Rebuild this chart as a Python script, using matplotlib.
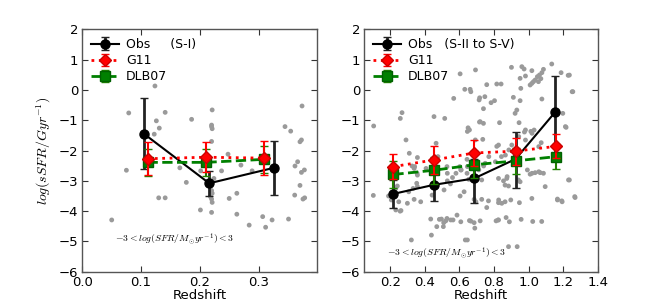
import matplotlib
matplotlib.use("Agg")
import matplotlib.pyplot as plt
import numpy as np

plt.rcParams['font.family'] = ['DejaVu Sans']
plt.rcParams['mathtext.fontset'] = 'cm'

# ---------------- Left panel data (S-I) ----------------
obs_z1 = [0.105, 0.216, 0.326]
obs_y1 = [-1.45, -3.08, -2.57]
obs_err1 = [1.17, 0.42, 0.90]

g11_z1 = [0.111, 0.211, 0.310]
g11_y1 = [-2.27, -2.22, -2.25]
g11_err1 = [0.55, 0.49, 0.57]

dlb_z1 = [0.111, 0.211, 0.310]
dlb_y1 = [-2.39, -2.39, -2.29]
dlb_err1 = [0.44, 0.44, 0.44]

scat_z1 = [0.050, 0.075, 0.079, 0.1236, 0.126, 0.131, 0.1224, 0.141, 0.130, 0.141,
           0.186, 0.166, 0.177, 0.201, 0.2015, 0.221, 0.220, 0.220, 0.221, 0.220,
           0.220, 0.221, 0.218, 0.220, 0.221, 0.220, 0.237, 0.248, 0.250, 0.263,
           0.263, 0.270, 0.284, 0.289, 0.307, 0.312, 0.323, 0.351, 0.362, 0.3665,
           0.373, 0.378, 0.3705, 0.3615, 0.3756, 0.3785, 0.374, 0.345, 0.3547, 0.3705,
           0.373, 0.224]
scat_y1 = [-4.29, -2.65, -0.76, 0.13, -1.02, -1.26, -1.46, -0.74, -3.56, -3.56,
           -0.97, -2.57, -3.05, -3.96, -2.67, -0.66, -1.16, -1.21, -1.28, -1.70,
           -3.32, -3.41, -3.52, -3.60, -3.71, -4.04, -2.67, -2.12, -3.58, -3.41,
           -4.10, -2.48, -4.46, -2.67, -4.18, -4.53, -4.29, -4.26, -2.51, -2.37,
           -2.72, -2.64, -3.15, -3.47, -3.60, -3.56, -0.53, -1.21, -1.36, -1.71,
           -1.65, -2.92]

# ---------------- Right panel data (S-II to S-V) ----------------
obs_z2 = [0.218, 0.453, 0.685, 0.925, 1.154]
obs_y2 = [-3.43, -3.13, -2.92, -2.28, -0.73]
obs_lo2 = [0.48, 0.55, 0.80, 0.95, 1.50]
obs_hi2 = [0.45, 0.55, 0.65, 0.90, 1.19]

g11_z2 = [0.218, 0.453, 0.685, 0.925, 1.161]
g11_y2 = [-2.53, -2.31, -2.08, -2.02, -1.86]
g11_err2 = [0.42, 0.45, 0.44, 0.45, 0.40]

dlb_z2 = [0.218, 0.453, 0.685, 0.925, 1.161]
dlb_y2 = [-2.79, -2.65, -2.47, -2.34, -2.20]
dlb_err2 = [0.45, 0.45, 0.45, 0.42, 0.42]

scat_z2 = [0.104, 0.102, 0.268, 0.258, 0.291, 0.453, 0.515, 0.465, 0.567, 0.604,
           0.631, 0.662, 0.666, 0.693, 0.717, 0.714, 0.650, 0.646, 0.658, 0.692,
           0.716, 0.357,
           0.901, 0.961, 0.974, 1.019, 1.134, 1.188, 1.229, 0.982, 0.951, 1.086,
           1.077, 1.063, 1.051, 1.038, 1.071, 1.057, 1.019, 1.028, 1.009, 0.758,
           0.816, 0.841, 0.955, 1.256, 0.747, 0.912, 1.077, 0.951, 0.803, 0.783,
           0.739, 0.932, 0.922, 1.198, 0.720, 0.739, 0.832, 0.945, 1.217, 1.032,
           1.013, 0.976, 0.735, 0.826, 0.816, 0.903, 1.073, 0.982,
           0.190, 0.206, 0.249, 0.262, 0.307, 0.332, 0.353, 0.322, 0.355, 0.341,
           0.442, 0.434, 0.438, 0.469, 0.484, 0.509, 0.528, 0.563, 0.586, 0.658,
           0.689, 0.634, 0.646, 0.548, 0.644, 0.602, 0.827, 0.824, 0.934,
           0.257, 0.357, 0.338, 0.299, 0.376, 0.496, 0.521, 0.507, 0.550, 0.608,
           0.666, 0.685, 0.604, 0.627, 0.511, 0.560, 0.530, 0.357, 0.338, 0.608,
           0.646, 0.685, 0.695, 0.241, 0.232, 0.232,
           0.310, 0.326, 0.407, 0.476, 0.528, 0.530, 0.580, 0.610, 0.644, 0.654,
           0.712, 0.740, 0.770, 0.808, 0.843, 0.866, 0.876, 0.886, 0.943, 0.982,
           1.020, 1.059, 0.993, 1.020, 1.059, 1.086, 1.167, 1.194, 1.213, 1.236,
           1.267, 1.236, 1.252,
           0.749, 0.826, 0.855, 0.874, 0.864, 0.884, 0.941, 0.951, 1.009, 1.038,
           1.067, 1.096, 1.231, 1.019, 1.167, 1.192, 1.269, 0.729, 0.768, 0.758,
           0.826, 0.845, 0.864, 0.897, 0.947, 0.720, 0.812, 0.826, 0.870, 0.889,
           0.957, 1.024, 1.076, 0.884, 0.729]
scat_y2 = [-1.19, -3.48, -0.75, -0.94, -1.65, -0.88, -0.94, -1.76, -0.28, 0.53,
           0.02, 0.02, -0.06, 0.66, -0.26, -0.33, -1.25, -1.37, -1.32, -1.65,
           -1.06, -2.23,
           0.745, 0.767, 0.690, 0.635, 0.855, 0.569, 0.481, 0.459, 0.382, 0.679,
           0.569, 0.492, 0.437, 0.327, 0.371, 0.272, 0.217, 0.272, 0.162, 0.173,
           0.195, 0.195, 0.052, -0.058, -0.223, -0.245, -0.300, -0.355, -0.355, -0.421,
           -0.619, -0.663, -0.773, -0.773, -1.048, -1.103, -1.081, -1.081, -1.235, -1.323,
           -1.367, -1.389, -1.631, -1.818, -1.862, -1.818, -1.741, -1.653,
           -3.50, -3.63, -3.69, -3.98, -3.36, -3.25, -3.08, -4.95, -2.75, -2.53,
           -3.47, -4.26, -4.79, -4.51, -4.27, -4.38, -4.24, -4.29, -4.13, -4.31,
           -4.56, -4.95, -4.95, -3.10, -2.75, -2.53, -3.63, -4.29, -5.17,
           -4.00, -3.19, -3.61, -3.74, -3.69, -4.26, -4.32, -4.51, -4.29, -4.35,
           -4.33, -4.38, -3.50, -3.36, -3.30, -2.89, -3.00, -2.81, -2.59, -2.64,
           -2.53, -3.61, -3.69, -3.17, -3.25, -3.96,
           -2.09, -2.51, -2.59, -2.20, -2.53, -2.75, -2.75, -2.64, -2.29, -2.95,
           -2.64, -2.51, -2.20, -2.37, -2.20, -2.15, -2.86, -1.98, -1.54, -1.32,
           -1.43, -1.87, -2.64, -2.75, -2.70, -2.75, -3.63, -3.69, -1.21, -2.97,
           -3.52, 0.49, -0.06,
           -2.42, -2.92, -3.00, -2.92, -3.14, -3.17, -2.97, -3.03, -2.78, -2.73,
           -2.73, -3.19, -2.97, -3.58, -3.60, -3.66, -3.55, -3.61, -3.66, -3.88,
           -3.72, -3.74, -3.69, -3.63, -3.72, -4.32, -4.32, -4.29, -4.21, -4.35,
           -4.27, -4.34, -4.34, -5.17, -2.97]

note_text = r'$-3<log(SFR/M_{\odot}yr^{-1})<3$'

fig = plt.figure(figsize=(6.64, 3.02), dpi=100)
ax1 = fig.add_axes([0.124, 0.100, 0.353, 0.803])
ax2 = fig.add_axes([0.5487, 0.100, 0.3515, 0.803])

def draw(ax, sz, sy, oz, oy, oerr, gz, gy, gerr, dz, dy, derr, obs_label):
    ax.scatter(sz, sy, s=12, color='#9a9a9a', edgecolors='none', zorder=1)
    ax.errorbar(oz, oy, yerr=oerr, color='k', ecolor='#222222', elinewidth=2,
                capsize=3, capthick=1, lw=1.5, marker='o', ms=6.5, mec='k',
                label=obs_label, zorder=3)
    ax.errorbar(gz, gy, yerr=gerr, color='r', ecolor='r', elinewidth=1.5,
                capsize=3, capthick=1, lw=2, ls=':', marker='D', ms=6.5, mec='#cc0000',
                label='G11', zorder=5)
    ax.errorbar(dz, dy, yerr=derr, color='#008000', ecolor='#208000', elinewidth=1.5,
                capsize=3, capthick=1, lw=2, ls='--', marker='s', ms=6.5, mec='#006000',
                label='DLB07', zorder=4)
    ax.set_ylim(-6, 2)
    ax.set_yticks(np.arange(-6, 3, 1))
    ax.tick_params(direction='in', top=True, right=True, length=4, labelsize=9.5,
                   width=0.8, color='#333333', pad=3)
    for s in ax.spines.values():
        s.set_color('#555555')
        s.set_linewidth(1)
    ax.set_xlabel('Redshift', fontsize=9.5, labelpad=0)
    ax.legend(loc='upper left', frameon=False, numpoints=1, fontsize=9,
              handlelength=2.2, labelspacing=0.25, borderaxespad=0.3,
              handletextpad=0.6)

draw(ax1, scat_z1, scat_y1, obs_z1, obs_y1, obs_err1, g11_z1, g11_y1, g11_err1,
     dlb_z1, dlb_y1, dlb_err1, 'Obs     (S-I)')
ax1.set_xlim(0.0, 0.399)
ax1.set_xticks([0.0, 0.1, 0.2, 0.3])
ax1.set_ylabel(r'$log(sSFR/Gyr^{-1})$', fontsize=10, labelpad=4)
ax1.text(0.056, -4.92, note_text, fontsize=7, va='center', ha='left')

draw(ax2, scat_z2, scat_y2, obs_z2, obs_y2, [obs_lo2, obs_hi2], g11_z2, g11_y2, g11_err2,
     dlb_z2, dlb_y2, dlb_err2, 'Obs   (S-II to S-V)')
ax2.set_xlim(0.05, 1.4)
ax2.set_xticks([0.2, 0.4, 0.6, 0.8, 1.0, 1.2, 1.4])
ax2.text(0.18, -5.38, note_text, fontsize=7, va='center', ha='left')

fig.savefig('out.png', dpi=100)
